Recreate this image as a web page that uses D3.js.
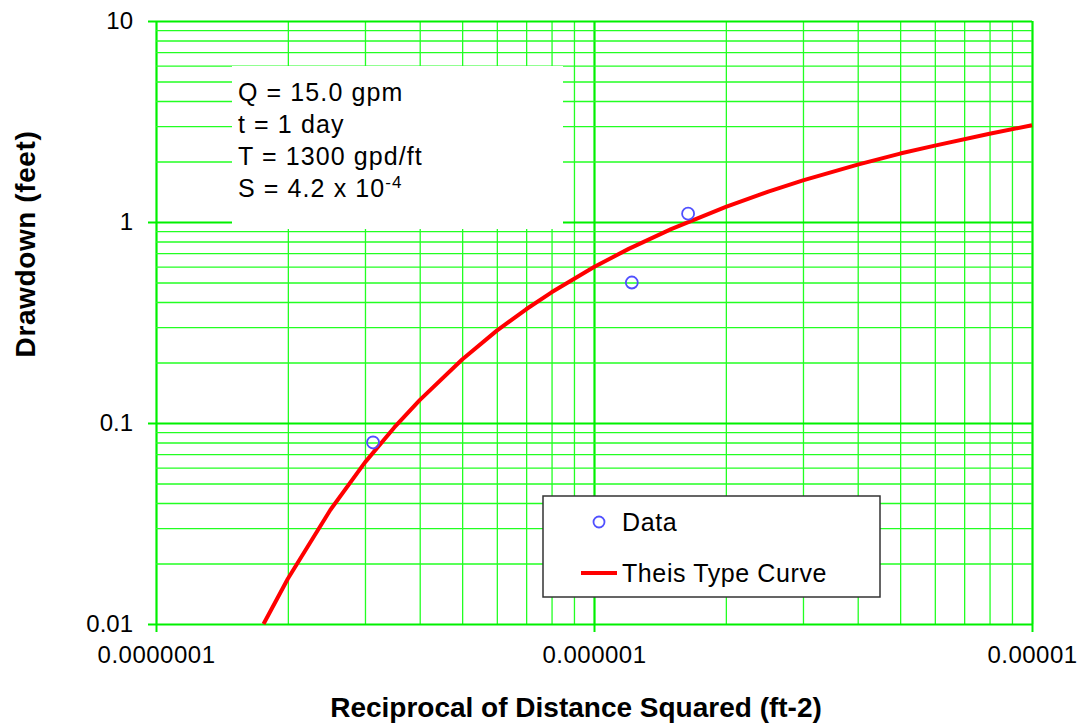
<!DOCTYPE html>
<html>
<head>
<meta charset="utf-8">
<script src="https://cdn.jsdelivr.net/npm/d3@7"></script>
<style>
	body { margin: 0; background: #fff; }
	svg { display: block; font-family: Arial, "Liberation Sans", sans-serif; }
	.grid line { stroke: #22ff22; stroke-width: 1.3; }
	.grid line.major { stroke: #00f000; stroke-width: 2.2; }
	.grid path { display: none; }
	.labels path { display: none; }
	.labels line { stroke: #00f000; stroke-width: 2; }
	.labels text { font-size: 24px; fill: #000; }
</style>
</head>
<body>
<svg width="1080" height="727"></svg>
<script>
// ------- DATA ------- //

// Theis type curve, reciprocal of distance squared (ft-2) vs drawdown (ft)
const curveX = [1.76e-7, 2e-7, 2.5e-7, 3e-7, 3.5e-7, 4e-7, 5e-7, 6e-7, 7e-7, 8e-7,
	1e-6, 1.2e-6, 1.5e-6, 2e-6, 2.5e-6, 3e-6, 4e-6, 5e-6, 6e-6, 8e-6, 1e-5]
const curveS = [0.01, 0.0168, 0.0369, 0.0637, 0.095, 0.130, 0.207, 0.288, 0.368, 0.447,
	0.597, 0.735, 0.922, 1.19, 1.416, 1.61, 1.93, 2.19, 2.40, 2.75, 3.03]

// observed drawdowns
const dataX = [3.13e-7, 1.22e-6, 1.64e-6]
const dataS = [0.08, 0.5, 1.1]

const xTicks = [1e-7, 1e-6, 1e-5]
const xTickLabels = ['0.0000001', '0.000001', '0.00001']
const yTicks = [0.01, 0.1, 1, 10]
const yTickLabels = ['0.01', '0.1', '1', '10']

const infoLines = ['Q = 15.0 gpm', 't = 1 day', 'T = 1300 gpd/ft']

// ------- LAYOUT ------- //

const margin = { left: 156, right: 1032, top: 21, bottom: 624 }
const svg = d3.select('svg')

const x = d3.scaleLog().domain([1e-7, 1e-5]).range([margin.left, margin.right])
const y = d3.scaleLog().domain([0.01, 10]).range([margin.bottom, margin.top])

const isMajor = (v) => Math.abs(Math.log10(v) - Math.round(Math.log10(v))) < 1e-6

// all 1..9 multiples for the log grid
const logGrid = (lo, hi) => {
	let vals = []
	for (let e = lo; e <= hi; e++) {
		for (let m = 1; m <= 9; m++) {
			let v = m * Math.pow(10, e)
			vals.push(+v.toPrecision(3))
		}
	}
	return vals
}
const xGrid = logGrid(-7, -6).concat([1e-5])
const yGrid = logGrid(-2, 0).concat([10])

const plotW = margin.right - margin.left
const plotH = margin.bottom - margin.top

// vertical grid
svg.append('g')
	.attr('class', 'grid')
	.attr('transform', `translate(0,${margin.bottom})`)
	.call(d3.axisBottom(x).tickValues(xGrid).tickSize(-plotH).tickFormat(''))
	.selectAll('line')
	.classed('major', (d) => isMajor(d))

// horizontal grid
svg.append('g')
	.attr('class', 'grid')
	.attr('transform', `translate(${margin.left},0)`)
	.call(d3.axisLeft(y).tickValues(yGrid).tickSize(-plotW).tickFormat(''))
	.selectAll('line')
	.classed('major', (d) => isMajor(d))

// ------- INFO BOX ------- //

const box = svg.append('g')
box.append('rect')
	.attr('x', 232).attr('y', 66)
	.attr('width', 331).attr('height', 163)
	.attr('fill', '#fff')

const info = box.append('text')
	.attr('x', 238)
	.style('font-size', '25px')
	.style('letter-spacing', '1.1px')
infoLines.forEach((l, i) => {
	info.append('tspan').attr('x', 238).attr('y', 101 + i * 32).text(l)
})
info.append('tspan').attr('x', 238).attr('y', 197).text('S = 4.2 x 10')
info.append('tspan').attr('dy', -9).style('font-size', '17px').text('-4')

// ------- AXES ------- //

const xAxis = svg.append('g')
	.attr('class', 'labels')
	.attr('transform', `translate(0,${margin.bottom})`)
	.call(d3.axisBottom(x).tickValues(xTicks).tickSize(8).tickPadding(14)
		.tickFormat((d, i) => xTickLabels[i]))
xAxis.selectAll('text').style('letter-spacing', '0.5px')

svg.append('g')
	.attr('class', 'labels')
	.attr('transform', `translate(${margin.left},0)`)
	.call(d3.axisLeft(y).tickValues(yTicks).tickSize(8).tickPadding(15)
		.tickFormat((d, i) => yTickLabels[i]))

svg.append('text')
	.attr('x', 576).attr('y', 717)
	.attr('text-anchor', 'middle')
	.style('font-size', '28px').style('font-weight', 'bold')
	.text('Reciprocal of Distance Squared (ft-2)')

svg.append('text')
	.attr('transform', 'translate(35,244) rotate(-90)')
	.attr('text-anchor', 'middle')
	.style('font-size', '28px').style('font-weight', 'bold')
	.style('letter-spacing', '0.6px')
	.text('Drawdown (feet)')

// ------- SERIES ------- //

const line = d3.line()
	.x((d, i) => x(curveX[i]))
	.y((d) => y(d))

svg.append('path')
	.datum(curveS)
	.attr('d', line)
	.attr('fill', 'none')
	.attr('stroke', '#ff0000')
	.attr('stroke-width', 4)
	.attr('stroke-linejoin', 'round')

svg.append('g')
	.selectAll('circle')
	.data(dataS)
	.enter().append('circle')
	.attr('cx', (d, i) => x(dataX[i]))
	.attr('cy', (d) => y(d))
	.attr('r', 6)
	.attr('fill', 'none')
	.attr('stroke', '#5050ff')
	.attr('stroke-width', 1.8)

// ------- LEGEND ------- //

const legend = svg.append('g').attr('transform', 'translate(543,496)')
legend.append('rect')
	.attr('width', 337).attr('height', 101)
	.attr('fill', '#fff')
	.attr('stroke', '#333').attr('stroke-width', 1.5)
legend.append('circle')
	.attr('cx', 56).attr('cy', 26).attr('r', 5.5)
	.attr('fill', 'none').attr('stroke', '#5050ff').attr('stroke-width', 1.8)
legend.append('text')
	.attr('x', 79).attr('y', 35)
	.style('font-size', '25px').style('letter-spacing', '0.6px')
	.text('Data')
legend.append('line')
	.attr('x1', 38).attr('x2', 74).attr('y1', 77).attr('y2', 77)
	.attr('stroke', '#ff0000').attr('stroke-width', 4)
legend.append('text')
	.attr('x', 79).attr('y', 86)
	.style('font-size', '25px').style('letter-spacing', '0.6px')
	.text('Theis Type Curve')
</script>
</body>
</html>
